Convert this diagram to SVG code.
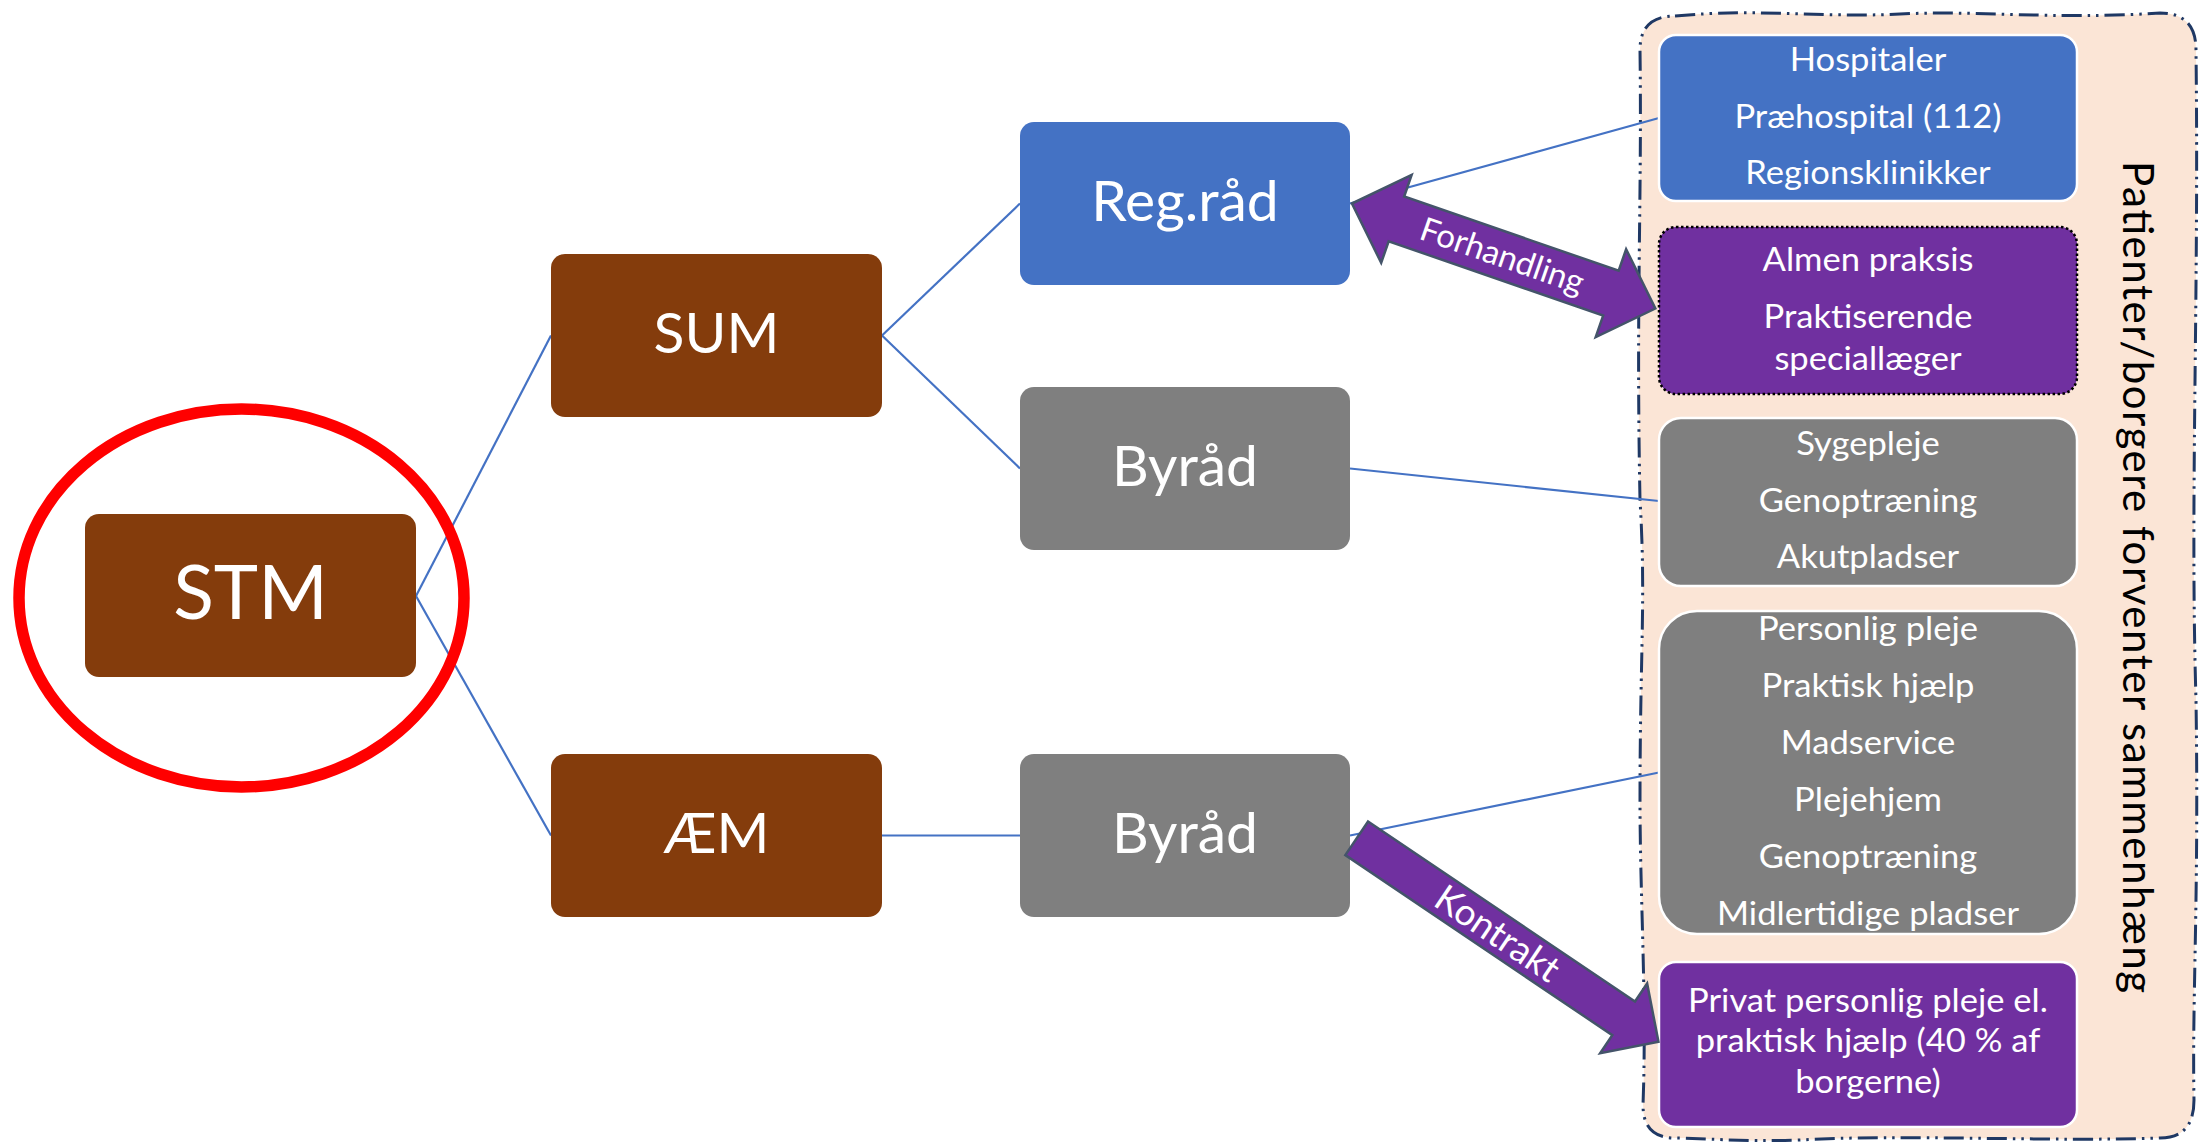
<svg xmlns="http://www.w3.org/2000/svg" width="2199" height="1143" viewBox="0 0 2199 1143">
  <style>
    .lbl { font-family: Lato, "Noto Sans", "Liberation Sans", sans-serif; fill: #ffffff; text-anchor: middle; }
    .big { font-size: 75px; }
    .mid { font-size: 57px; }
    .lst { font-size: 32px; }
    .brown { fill: #843C0C; }
    .blue { fill: #4472C4; }
    .gray { fill: #7F7F7F; }
    .purple { fill: #7030A0; }
    .edge { stroke: #ffffff; stroke-width: 2.5; }
    .conn { stroke: #4472C4; stroke-width: 2.2; fill: none; }
    .fat { fill: #7030A0; stroke: #44546A; stroke-width: 2.5; stroke-linejoin: miter; }
  </style>

  <rect width="2199" height="1143" fill="#ffffff"/>

  <!-- citizen expectation panel -->
  <g id="panel">
    <path d="M 1675,16 C 1760,8 1820,18 1900,14 C 1980,10 2050,20 2160,13 Q 2196,13 2196,50 C 2199,300 2190,500 2196,700 C 2199,900 2192,1000 2194,1100 Q 2194,1138 2160,1138 C 2050,1142 1900,1134 1800,1140 C 1740,1142 1700,1138 1675,1138 Q 1643,1138 1643,1105 C 1647,1000 1640,900 1640,800 C 1640,650 1646,600 1640,500 C 1636,300 1642,200 1640,50 Q 1640,16 1675,16 Z" fill="#FBE5D6" stroke="#1F3864" stroke-width="3" stroke-dasharray="20 6 2.5 6 2.5 6"/>
    <text class="lbl" transform="translate(2123,577) rotate(90)" style="fill:#000000;font-size:42px" textLength="832" lengthAdjust="spacing">Patienter/borgere forventer sammenhæng</text>
  </g>

  <!-- connectors -->
  <g id="connectors">
    <line class="conn" x1="416" y1="596" x2="551" y2="335.5"/>
    <line class="conn" x1="416" y1="596" x2="551" y2="835.5"/>
    <line class="conn" x1="882" y1="335.5" x2="1020" y2="203.5"/>
    <line class="conn" x1="882" y1="335.5" x2="1020" y2="468.5"/>
    <line class="conn" x1="882" y1="835.5" x2="1020" y2="835.5"/>
    <line class="conn" x1="1350" y1="203.5" x2="1659" y2="118"/>
    <line class="conn" x1="1350" y1="468.5" x2="1659" y2="501"/>
    <line class="conn" x1="1350" y1="835.5" x2="1659" y2="772.5"/>
  </g>

  <!-- governance hierarchy -->
  <g id="stm">
    <rect class="brown" x="85" y="514" width="331" height="163" rx="14"/>
    <text class="lbl big" x="250.5" y="619">STM</text>
  </g>
  <g id="sum">
    <rect class="brown" x="551" y="254" width="331" height="163" rx="14"/>
    <text class="lbl mid" x="716.5" y="353">SUM</text>
  </g>
  <g id="aem">
    <rect class="brown" x="551" y="754" width="331" height="163" rx="14"/>
    <text class="lbl mid" x="716.5" y="853">ÆM</text>
  </g>
  <g id="regraad">
    <rect class="blue" x="1020" y="122" width="330" height="163" rx="14"/>
    <text class="lbl mid" x="1185" y="221">Reg.råd</text>
  </g>
  <g id="byraad-sum">
    <rect class="gray" x="1020" y="387" width="330" height="163" rx="14"/>
    <text class="lbl mid" x="1185" y="486">Byråd</text>
  </g>
  <g id="byraad-aem">
    <rect class="gray" x="1020" y="754" width="330" height="163" rx="14"/>
    <text class="lbl mid" x="1185" y="853">Byråd</text>
  </g>

  <!-- services; list text is set slightly wide around the column centre x=1868 -->
  <g id="region-services">
    <rect class="blue edge" x="1659" y="35" width="418" height="166" rx="17"/>
    <g transform="matrix(1.08 0 0 1 -149.44 0)">
      <text class="lbl lst" x="1868" y="71">Hospitaler</text>
      <text class="lbl lst" x="1868" y="128">Præhospital (112)</text>
      <text class="lbl lst" x="1868" y="184">Regionsklinikker</text>
    </g>
  </g>
  <g id="practice">
    <rect class="purple" x="1659" y="227" width="418" height="167" rx="17" stroke="#000000" stroke-width="2.5" stroke-dasharray="2.5 2.5"/>
    <g transform="matrix(1.08 0 0 1 -149.44 0)">
      <text class="lbl lst" x="1868" y="271">Almen praksis</text>
      <text class="lbl lst" x="1868" y="328">Praktiserende</text>
      <text class="lbl lst" x="1868" y="370">speciallæger</text>
    </g>
  </g>
  <g id="health-care">
    <rect class="gray edge" x="1659" y="418" width="418" height="168" rx="22"/>
    <g transform="matrix(1.08 0 0 1 -149.44 0)">
      <text class="lbl lst" x="1868" y="455">Sygepleje</text>
      <text class="lbl lst" x="1868" y="512">Genoptræning</text>
      <text class="lbl lst" x="1868" y="568">Akutpladser</text>
    </g>
  </g>
  <g id="elder-care">
    <rect class="gray edge" x="1659" y="611" width="418" height="323" rx="38"/>
    <g transform="matrix(1.08 0 0 1 -149.44 0)">
      <text class="lbl lst" x="1868" y="640">Personlig pleje</text>
      <text class="lbl lst" x="1868" y="697">Praktisk hjælp</text>
      <text class="lbl lst" x="1868" y="754">Madservice</text>
      <text class="lbl lst" x="1868" y="811">Plejehjem</text>
      <text class="lbl lst" x="1868" y="868">Genoptræning</text>
      <text class="lbl lst" x="1868" y="925">Midlertidige pladser</text>
    </g>
  </g>
  <g id="private-care">
    <rect class="purple edge" x="1659" y="962" width="418" height="165" rx="17"/>
    <g transform="matrix(1.08 0 0 1 -149.44 0)">
      <text class="lbl lst" x="1868" y="1012">Privat personlig pleje el.</text>
      <text class="lbl lst" x="1868" y="1052">praktisk hjælp (40 % af</text>
      <text class="lbl lst" x="1868" y="1093">borgerne)</text>
    </g>
  </g>

  <!-- block arrows -->
  <g id="forhandling" transform="translate(1352,203.5) rotate(19.1)">
    <polygon class="fat" points="0,0 47,-46.5 47,-23.7 274,-23.7 274,-46.5 321,0 274,46.5 274,23.7 47,23.7 47,46.5"/>
    <text class="lbl" x="159" y="11.5" style="font-size:33px">Forhandling</text>
  </g>
  <g id="kontrakt" transform="translate(1356.7,838.3) rotate(34)">
    <polygon class="fat" points="0,-20.3 322,-20.3 322,-42 364,0 322,42 322,20.3 0,20.3"/>
    <text class="lbl" x="170" y="13" style="font-size:37px">Kontrakt</text>
  </g>

  <!-- highlight -->
  <ellipse id="highlight" cx="241.5" cy="598" rx="222.5" ry="189" fill="none" stroke="#FF0000" stroke-width="11.5"/>
</svg>
